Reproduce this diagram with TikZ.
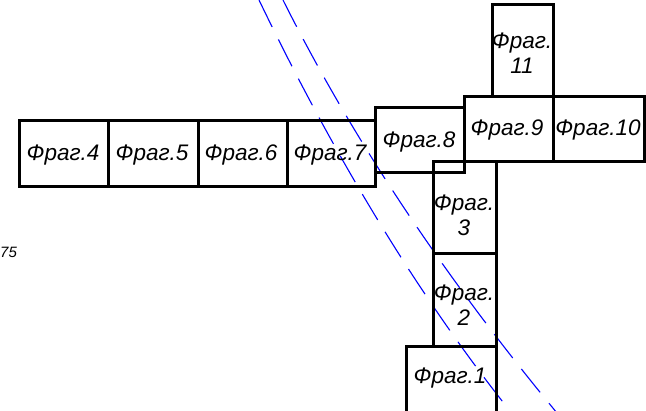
\documentclass[tikz,border=0pt]{standalone}
\usepackage{fontspec}
\setmainfont{Liberation Sans}
\begin{document}
\begin{tikzpicture}[x=1pt,y=-1pt,
  box/.style={draw=black,line width=3pt,inner sep=0pt,outer sep=0pt,anchor=north west},
  lbl/.style={font=\fontsize{22.5}{25}\selectfont\itshape,inner sep=0pt,align=center},
  guide/.style={draw=blue,line width=1.1pt,dash pattern=on 30pt off 14pt}]
\clip (0,0) rectangle (646,411);
\fill[white] (0,0) rectangle (646,411);
% blue guide curves
\coordinate (ga) at (259,0);
\coordinate (gb) at (510,411);
\coordinate (gc) at (283,0);
\coordinate (gd) at (557,413);
\draw[guide] (ga) .. controls (337,162) and (421,299) .. (gb);
\draw[guide] (gc) .. controls (352,138) and (443,275) .. (gd);
% boxes
\node[box,minimum width=89,minimum height=66] (f4) at (19,121) {};
\node[box,minimum width=90,minimum height=66] (f5) at (108,121) {};
\node[box,minimum width=89,minimum height=66] (f6) at (198,121) {};
\node[box,minimum width=88,minimum height=66] (f7) at (287,121) {};
\node[box,minimum width=89,minimum height=65] (f8) at (375,108) {};
\node[box,minimum width=89,minimum height=65] (f9) at (464,97) {};
\node[box,minimum width=91,minimum height=65] (f10) at (553,97) {};
\node[box,minimum width=61,minimum height=92] (f11) at (492,5) {};
\node[box,minimum width=63,minimum height=92] (f3) at (433,162) {};
\node[box,minimum width=63,minimum height=93] (f2) at (433,254) {};
\node[box,minimum width=90,minimum height=70] (f1) at (406,347) {};
% labels
\node[lbl] (t4) at (63,155) {Фраг.4};
\node[lbl] (t5) at (152,155) {Фраг.5};
\node[lbl] (t6) at (241,155) {Фраг.6};
\node[lbl] (t7) at (330,155) {Фраг.7};
\node[lbl] (t8) at (419,142) {Фраг.8};
\node[lbl] (t9) at (507,130) {Фраг.9};
\node[lbl] (t10) at (598,130) {Фраг.10};
\node[lbl] (t11) at (522,53) {Фраг.\\11};
\node[lbl] (t3) at (464,215) {Фраг.\\3};
\node[lbl] (t2) at (464,305) {Фраг.\\2};
\node[lbl] (t1) at (450,378) {Фраг.1};
\node[font=\fontsize{15}{17}\selectfont\itshape,inner sep=0pt,anchor=west] (n75) at (0,252) {75};
\end{tikzpicture}
\end{document}
